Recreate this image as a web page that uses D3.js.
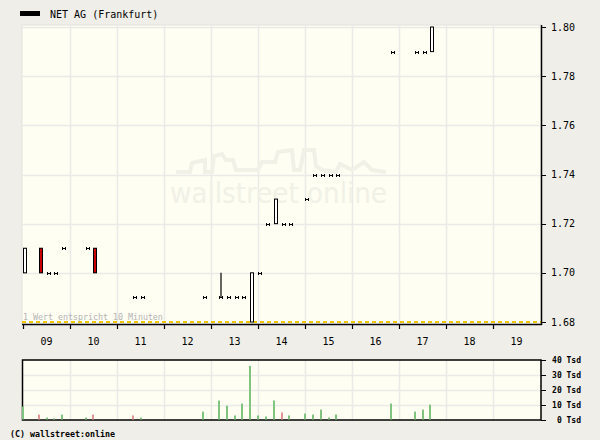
<!DOCTYPE html>
<html>
<head>
<meta charset="utf-8">
<script src="https://cdn.jsdelivr.net/npm/d3@7"></script>
<style>
  html, body { margin: 0; padding: 0; background: #efeee8; }
  svg { display: block; }
  text { font-family: "DejaVu Sans Mono", "Liberation Mono", monospace; }
</style>
</head>
<body>
<div id="chart"></div>
<script>
// ---- data (10-minute values, Frankfurt) ----
const times  = ["09:00","09:20","09:30","09:40","09:50","10:20","10:30","11:20","11:30","12:50",
                "13:10","13:20","13:30","13:40","13:50","14:00","14:10","14:20","14:30","14:40",
                "15:00","15:10","15:20","15:30","15:40","16:50","17:20","17:30","17:40"];
const opens  = [1.70,1.71,1.70,1.70,1.71,1.71,1.71,1.69,1.69,1.69,
                1.69,1.69,1.69,1.69,1.68,1.70,1.72,1.72,1.72,1.72,
                1.73,1.74,1.74,1.74,1.74,1.79,1.79,1.79,1.79];
const highs  = [1.71,1.71,1.70,1.70,1.71,1.71,1.71,1.69,1.69,1.69,
                1.70,1.69,1.69,1.69,1.70,1.70,1.72,1.73,1.72,1.72,
                1.73,1.74,1.74,1.74,1.74,1.79,1.79,1.79,1.80];
const lows   = [1.70,1.70,1.70,1.70,1.71,1.71,1.70,1.69,1.69,1.69,
                1.69,1.69,1.69,1.69,1.68,1.70,1.72,1.72,1.72,1.72,
                1.73,1.74,1.74,1.74,1.74,1.79,1.79,1.79,1.79];
const closes = [1.71,1.70,1.70,1.70,1.71,1.71,1.70,1.69,1.69,1.69,
                1.69,1.69,1.69,1.69,1.70,1.70,1.72,1.73,1.72,1.72,
                1.73,1.74,1.74,1.74,1.74,1.79,1.79,1.79,1.80];
const volumes = [8.7,3.3,1.3,0.7,3.3,1.3,3.3,2.7,1.3,5.3,
                 12.7,9.3,2.7,10.7,36,2.7,2,12.7,4.7,2.7,
                 4,3.3,6.7,1.3,3.3,10.7,5.3,6.7,10];
const hourLabels = ["09","10","11","12","13","14","15","16","17","18","19"];
const priceTicks = [1.68,1.70,1.72,1.74,1.76,1.78,1.80];
const volTicks = [0,10,20,30,40];
const title = "NET AG (Frankfurt)";

// ---- layout ----
const W = 600, H = 440;
const left = 22, right = 541;
const mainTop = 25, mainBottom = 324;
const volTop = 360, volBottom = 420;

const toHours = s => { const [h, m] = s.split(":").map(Number); return h + m / 60; };
const data = times.map((t, i) => ({
  t: toHours(t), o: opens[i], h: highs[i], l: lows[i], c: closes[i], v: volumes[i],
  prev: i > 0 ? closes[i - 1] : opens[i]
}));

const x = d3.scaleLinear().domain([9, 20]).range([23, 540]);
const y = d3.scaleLinear().domain([1.68, 1.80]).range([322, 27]);
const yv = d3.scaleLinear().domain([0, 40]).range([volBottom - 0.5, volTop]);

const svg = d3.select("#chart").append("svg").attr("width", W).attr("height", H);
svg.append("rect").attr("width", W).attr("height", H).attr("fill", "#efeee8");

// legend
svg.append("rect").attr("x", 20).attr("y", 11).attr("width", 20).attr("height", 5).attr("fill", "#000");
svg.append("text").attr("x", 50).attr("y", 17.5).attr("font-size", 10).attr("fill", "#000").text(title);

// ---- main panel ----
svg.append("rect").attr("x", left).attr("y", mainTop).attr("width", right - left).attr("height", mainBottom - mainTop)
  .attr("fill", "#fefef2").attr("stroke", "#e2e2de").attr("stroke-width", 1);

const hours = d3.range(10, 20);
svg.append("g").selectAll("line").data(hours).join("line")
  .attr("x1", d => Math.round(x(d)) + 0.5).attr("x2", d => Math.round(x(d)) + 0.5)
  .attr("y1", mainTop).attr("y2", mainBottom).attr("stroke", "#eaeae8").attr("stroke-width", 1.5);
svg.append("g").selectAll("line").data(priceTicks.slice(1)).join("line")
  .attr("x1", left).attr("x2", right)
  .attr("y1", d => Math.round(y(d)) + 0.5).attr("y2", d => Math.round(y(d)) + 0.5)
  .attr("stroke", "#eaeae8").attr("stroke-width", 1.5);

// watermark
const wm = svg.append("g");
wm.append("path")
  .attr("d", "M176,172 L190,172 L192,163 L205,160 L205,172 L212,172 L214,156 L222,154 L226,160 L233,160 L236,170 L258,170 L262,162 L275,162 L278,152 L292,150 L294,170 L300,170 L304,150 L314,150 L316,166 L322,170 L336,172 L340,164 L352,170 L364,162 L372,170 L386,172")
  .attr("fill", "none").attr("stroke", "#f1f1e7").attr("stroke-width", 4);
wm.append("text").attr("x", 170).attr("y", 203)
  .attr("font-size", 29).attr("fill", "#f1f1e7").attr("textLength", 217).attr("lengthAdjust", "spacingAndGlyphs")
  .style("font-family", "'DejaVu Sans', sans-serif")
  .text("wallstreet online");

// dashed baseline
svg.append("line").attr("x1", left).attr("x2", right).attr("y1", y(1.68)).attr("y2", y(1.68))
  .attr("stroke", "#f2c400").attr("stroke-width", 2).attr("stroke-dasharray", "4,3");

svg.append("text").attr("x", 23).attr("y", 320).attr("font-size", 8.3).attr("fill", "#b4b4b4")
  .text("1 Wert entspricht 10 Minuten");

// candles
const cx = d => Math.round(x(d.t)) + 1.5;
const g = svg.append("g");
g.selectAll("line.wick").data(data.filter(d => d.h !== d.l)).join("line").attr("class", "wick")
  .attr("x1", d => cx(d) + 0.5).attr("x2", d => cx(d) + 0.5)
  .attr("y1", d => y(d.h)).attr("y2", d => y(d.l)).attr("stroke", "#000").attr("stroke-width", 1.2);
g.selectAll("rect.body").data(data.filter(d => d.o !== d.c)).join("rect").attr("class", "body")
  .attr("x", d => cx(d) - 1).attr("width", 3)
  .attr("y", d => y(Math.max(d.o, d.c))).attr("height", d => Math.abs(y(d.o) - y(d.c)))
  .attr("fill", d => d.c > d.o ? "#ffffff" : "#c80000").attr("stroke", "#000").attr("stroke-width", 1);
g.selectAll("path.flat").data(data.filter(d => d.o === d.c)).join("path").attr("class", "flat")
  .attr("d", d => {
    const px = cx(d), py = Math.round(y(d.c));
    return `M${px - 1},${py - 1}v3M${px + 2},${py - 1}v3M${px - 1},${py + 0.5}h3`;
  })
  .attr("stroke", "#000").attr("stroke-width", 1).attr("fill", "none");

// right axis
svg.append("line").attr("x1", right + 0.5).attr("x2", right + 0.5).attr("y1", mainTop).attr("y2", mainBottom + 1)
  .attr("stroke", "#000").attr("stroke-width", 1.5);
const ra = svg.append("g").selectAll("g").data(priceTicks).join("g");
ra.append("line").attr("x1", right).attr("x2", right + 5).attr("y1", d => Math.round(y(d)) + 0.5).attr("y2", d => Math.round(y(d)) + 0.5)
  .attr("stroke", "#000");
ra.append("text").attr("x", 551).attr("y", d => y(d) + 3.5).attr("font-size", 10).attr("fill", "#000")
  .text(d => d.toFixed(2));

// x axis
svg.append("line").attr("x1", left).attr("x2", right + 1).attr("y1", mainBottom + 0.5).attr("y2", mainBottom + 0.5)
  .attr("stroke", "#000").attr("stroke-width", 1.5);
svg.append("g").selectAll("line").data(d3.range(9, 20)).join("line")
  .attr("x1", d => Math.round(x(d)) + 0.5).attr("x2", d => Math.round(x(d)) + 0.5)
  .attr("y1", mainBottom).attr("y2", mainBottom + 5).attr("stroke", "#000").attr("stroke-width", 1.2);
svg.append("g").selectAll("text").data(hourLabels).join("text")
  .attr("x", (d, i) => x(9 + i + 0.5)).attr("y", 345).attr("text-anchor", "middle")
  .attr("font-size", 10).attr("fill", "#000").text(d => d);

// ---- volume panel ----
svg.append("rect").attr("x", left).attr("y", volTop).attr("width", right - left).attr("height", volBottom - volTop)
  .attr("fill", "#fefef2");
svg.append("g").selectAll("line").data(hours).join("line")
  .attr("x1", d => Math.round(x(d)) + 0.5).attr("x2", d => Math.round(x(d)) + 0.5)
  .attr("y1", volTop).attr("y2", volBottom).attr("stroke", "#eaeae8").attr("stroke-width", 1.5);
svg.append("g").selectAll("line").data(volTicks.slice(1, 4)).join("line")
  .attr("x1", left).attr("x2", right).attr("y1", d => Math.round(yv(d)) + 0.5).attr("y2", d => Math.round(yv(d)) + 0.5)
  .attr("stroke", "#eaeae8").attr("stroke-width", 1.5);
svg.append("rect").attr("x", left + 0.5).attr("y", volTop).attr("width", right - left - 0.5).attr("height", volBottom - volTop)
  .attr("fill", "none").attr("stroke", "#000").attr("stroke-width", 1.5);
svg.append("g").selectAll("rect").data(data).join("rect")
  .attr("x", d => Math.round(x(d.t)) - 1).attr("width", 2)
  .attr("y", d => yv(d.v)).attr("height", d => yv(0) - yv(d.v))
  .attr("fill", d => d.c < d.prev ? "#e09494" : "#80c480");
const va = svg.append("g").selectAll("g").data(volTicks).join("g");
va.append("line").attr("x1", right).attr("x2", right + 5).attr("y1", d => Math.round(yv(d)) + 0.5).attr("y2", d => Math.round(yv(d)) + 0.5)
  .attr("stroke", "#000");
va.append("text").attr("x", 581).attr("y", d => yv(d) + 3).attr("text-anchor", "end")
  .attr("font-size", 8).attr("font-weight", "bold").attr("fill", "#000").text(d => d + " Tsd");

// copyright
svg.append("text").attr("x", 10).attr("y", 437).attr("font-size", 8.3).attr("font-weight", "bold").attr("fill", "#000")
  .text("(C) wallstreet:online");
</script>
</body>
</html>
